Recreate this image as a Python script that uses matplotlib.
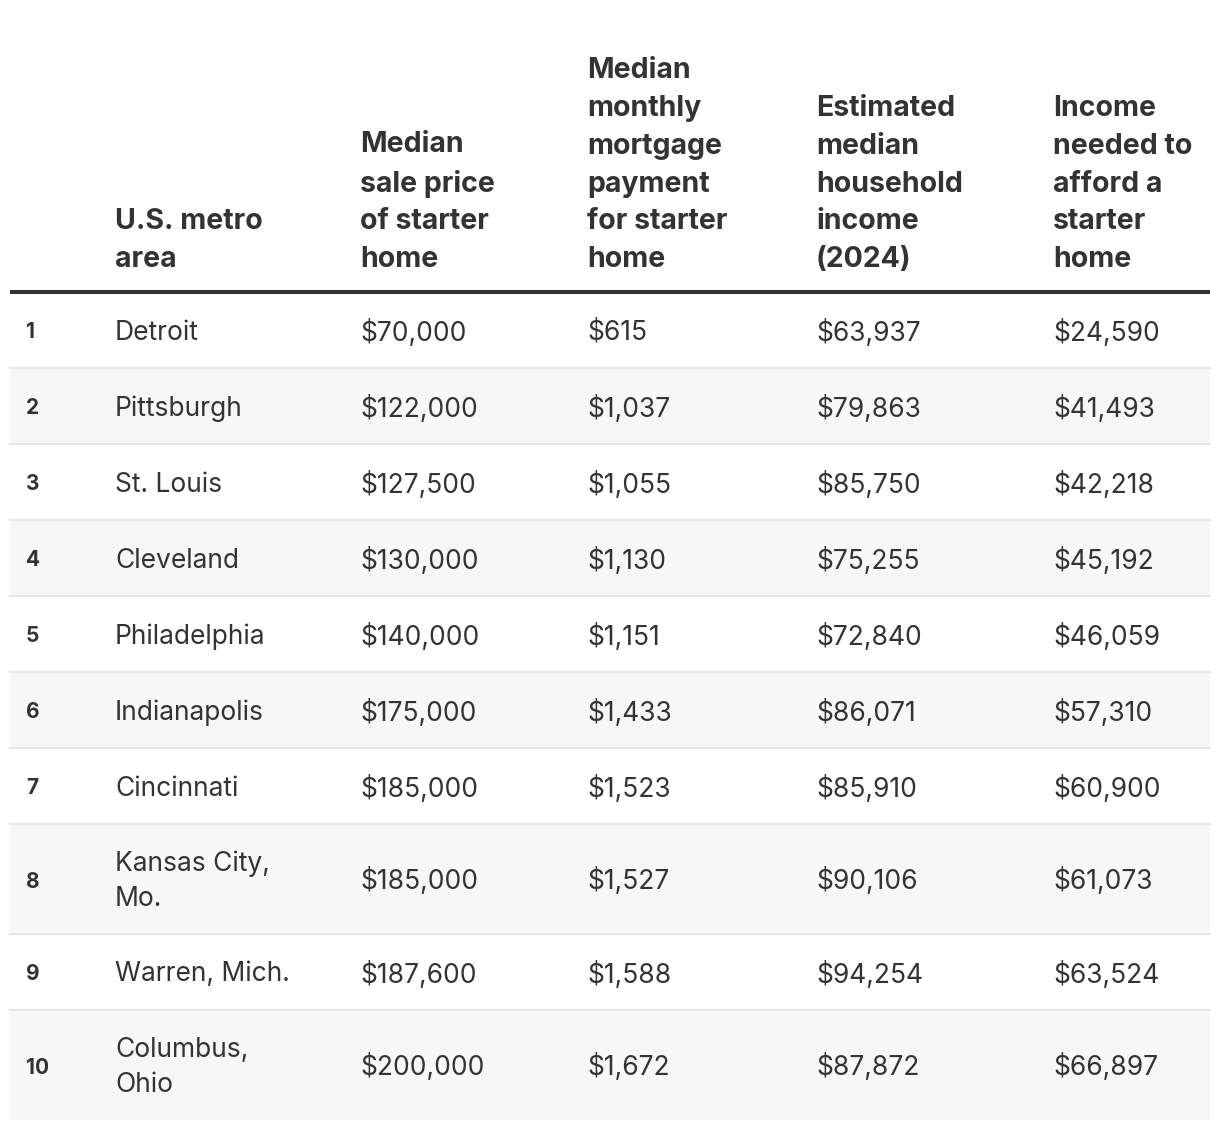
import matplotlib.pyplot as plt
from matplotlib.patches import Rectangle

# table contents
ranks = [1, 2, 3, 4, 5, 6, 7, 8, 9, 10]
metros = ["Detroit", "Pittsburgh", "St. Louis", "Cleveland", "Philadelphia",
          "Indianapolis", "Cincinnati", "Kansas City,\nMo.", "Warren, Mich.",
          "Columbus,\nOhio"]
sale_price = [70000, 122000, 127500, 130000, 140000, 175000, 185000, 185000, 187600, 200000]
monthly_payment = [615, 1037, 1055, 1130, 1151, 1433, 1523, 1527, 1588, 1672]
median_income = [63937, 79863, 85750, 75255, 72840, 86071, 85910, 90106, 94254, 87872]
income_needed = [24590, 41493, 42218, 45192, 46059, 57310, 60900, 61073, 63524, 66897]
headers = ["", "U.S. metro\narea", "Median\nsale price\nof starter\nhome",
           "Median\nmonthly\nmortgage\npayment\nfor starter\nhome",
           "Estimated\nmedian\nhousehold\nincome\n(2024)",
           "Income\nneeded to\nafford a\nstarter\nhome"]

W, H = 1220, 1130
fig = plt.figure(figsize=(W / 100, H / 100), dpi=100)
ax = fig.add_axes([0, 0, 1, 1])
ax.set_xlim(0, W)
ax.set_ylim(H, 0)
ax.axis("off")

plt.rcParams["font.family"] = ["Inter", "DejaVu Sans"]
txt = "#333333"
col_x = [26, 115, 360, 587, 816, 1053]
left, right = 10, 1210
header_bottom = 292

for x, h in zip(col_x, headers):
    if h:
        ax.text(x, 273, h, fontsize=20.5, fontweight="bold", color=txt,
                va="bottom", ha="left", linespacing=1.51)
ax.plot([left, right], [header_bottom, header_bottom], color="#333333", lw=2.9,
        solid_capstyle="butt")

y = header_bottom
for i in range(len(ranks)):
    nlines = metros[i].count("\n") + 1
    rh = 76 if nlines == 1 else 110
    if i % 2 == 1:
        ax.add_patch(Rectangle((left, y + 1), right - left, rh - 1, color="#f7f7f7", lw=0, zorder=0))
    cy = y + rh / 2 + 2.5
    ax.text(col_x[0], cy, str(ranks[i]), fontsize=15, fontweight="bold",
            color=txt, va="center", ha="left")
    ax.text(col_x[1], cy, metros[i], fontsize=19, color=txt, va="center",
            ha="left", linespacing=1.43)
    vals = [sale_price[i], monthly_payment[i], median_income[i], income_needed[i]]
    for x, v in zip(col_x[2:], vals):
        ax.text(x, cy, f"${v:,}", fontsize=19, color=txt, va="center", ha="left")
    y += rh
    if i < len(ranks) - 1:
        ax.plot([left, right], [y, y], color="#e6e6e6", lw=1.4, zorder=1)

fig.savefig("out.png", dpi=100, facecolor="white")
